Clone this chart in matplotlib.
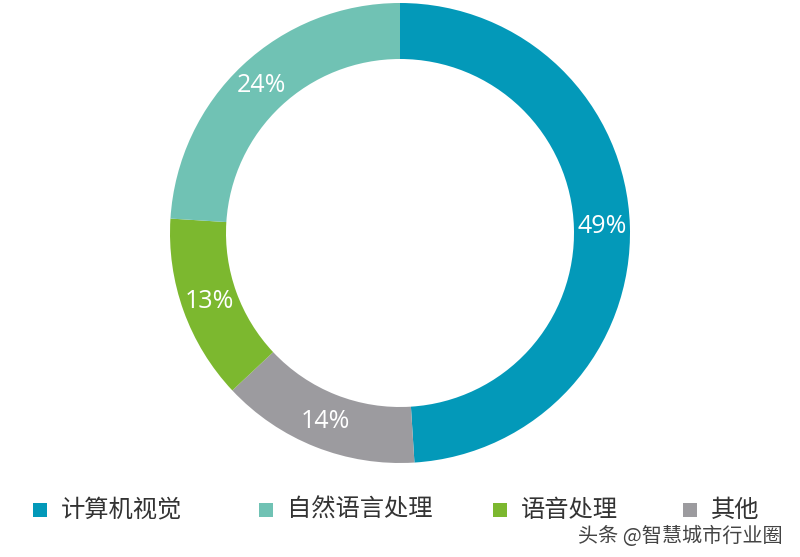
import matplotlib
matplotlib.use("Agg")
import matplotlib.pyplot as plt
from matplotlib.patches import Rectangle

categories = ["计算机视觉", "自然语言处理", "语音处理", "其他"]
values = [49, 24, 13, 14]
colors = ["#0399b9", "#70c2b4", "#7cb82f", "#9c9b9f"]
# drawing order clockwise from top
order = [0, 3, 2, 1]

plt.rcParams['font.family'] = ['Noto Sans CJK SC', 'DejaVu Sans']
fig = plt.figure(figsize=(8, 5.57), dpi=100)
ax = fig.add_axes([0, 0, 1, 1])
ax.set_xlim(0, 800); ax.set_ylim(0, 557); ax.set_aspect('equal'); ax.axis('off')

vals = [values[i] for i in order]
cols = [colors[i] for i in order]
wedges, texts, autotexts = ax.pie(vals, colors=cols, startangle=90, counterclock=False,
    center=(400, 324), radius=230, wedgeprops=dict(width=56, linewidth=0),
    autopct='%d%%', pctdistance=0.88, textprops=dict(color='white', fontsize=18, family='Open Sans'))
ax.set_xlim(0, 800); ax.set_ylim(0, 557)

lx = [40, 266, 500, 690]
for x, c, lab in zip(lx, colors, categories):
    ax.add_patch(Rectangle((x - 7, 557 - 517), 14, 14, color=c, lw=0))
    ax.text(x + 21, 557 - 510, lab, fontsize=17.5, color='#333333', va='center')

ax.text(783, 557 - 536, "头条 @智慧城市行业圈", fontsize=14.5, color='#444444', ha='right', va='center')
fig.savefig("out.png", dpi=100)
